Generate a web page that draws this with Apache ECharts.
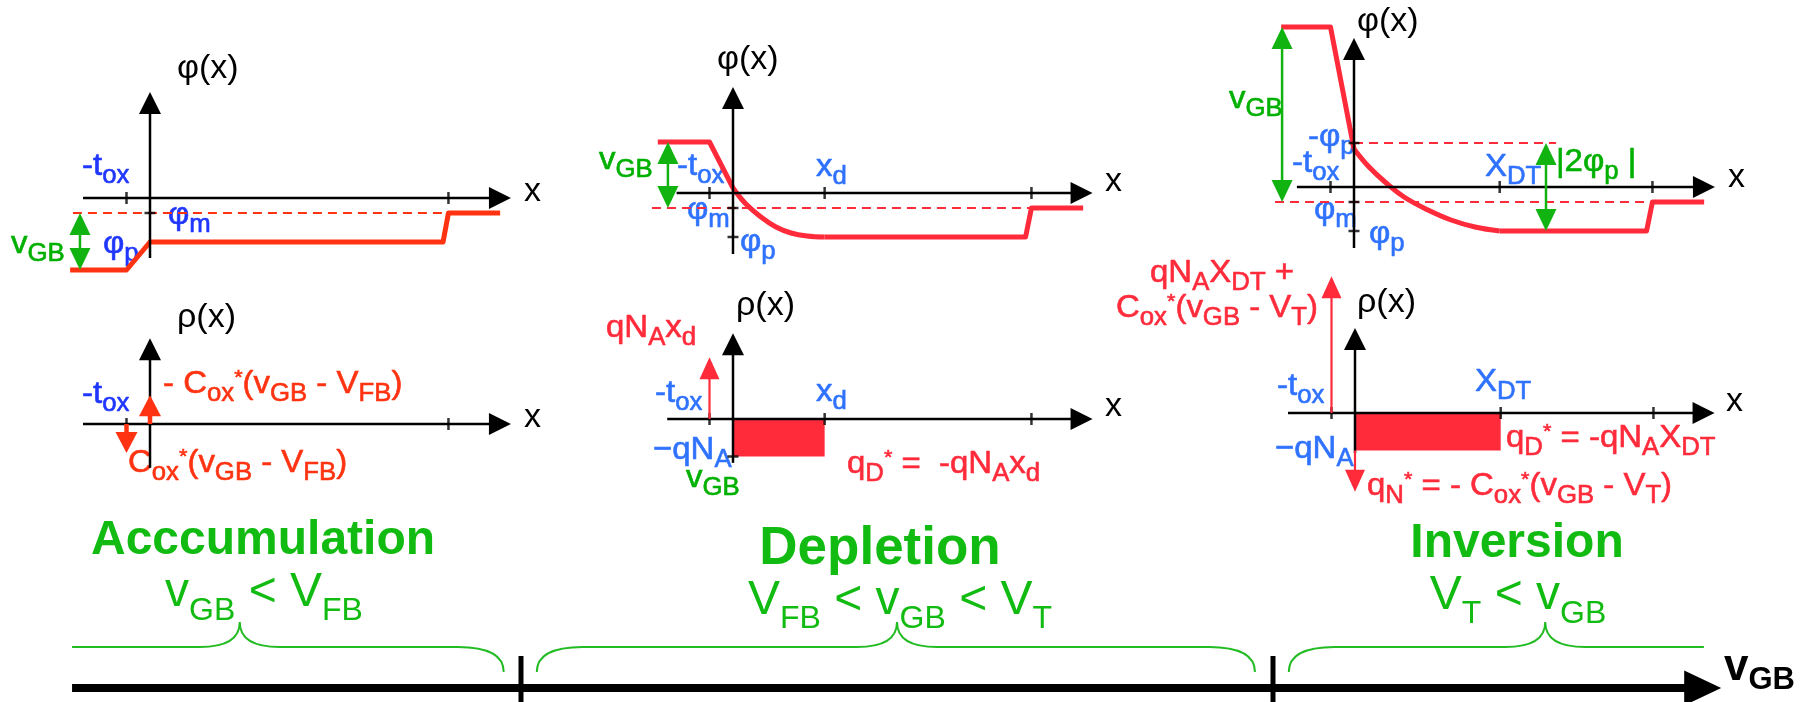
<!DOCTYPE html>
<html>
<head>
<meta charset="utf-8">
<title>MOS capacitor: potential and charge in the three bias regimes</title>
<script src="https://cdn.jsdelivr.net/npm/echarts@6.0.0/dist/echarts.min.js"></script>
<style>
  html, body { margin: 0; padding: 0; background: #fff; }
  #chart { width: 1816px; height: 702px; }
</style>
</head>
<body>
<div id="chart"></div>
<script>
// ---------------- diagram values ----------------
// x in units of the oxide thickness, φ in volts, ρ in units of qN_A
const tox = 1;
const xBack = 12.7;      // back contact
const xd = 3.9;          // depletion width
const xDT = 6.2;         // depletion width at threshold
const phiM = -0.15;      // metal reference level
const phiP = -0.44;      // bulk potential
const qNA = 1;
const VFB = 0, VT = 1;   // region boundaries on the v_GB axis

// potential profiles φ(x)
const accPhi      = [[-3.4, -0.72], [-tox, -0.72], [0, phiP], [12.47, phiP], [xBack, phiM], [14.9, phiM]];
const depPhiGate  = [[-3.2, 0.51], [-tox, 0.51], [0, 0.05]];
const depPhiCurve = [[0, 0.05], [0.51, -0.10], [1.19, -0.24], [1.83, -0.34], [2.47, -0.40], [3.15, -0.43], [xd, phiP]];
const depPhiBulk  = [[xd, phiP], [12.45, phiP], [xBack, phiM], [14.9, phiM]];
const invPhiGate  = [[-3.1, 1.6], [-tox, 1.6], [0, 0.38]];
const invPhiCurve = [[0, 0.38], [0.6, 0.21], [1.32, 0.05], [2.13, -0.10], [3.15, -0.23], [4.13, -0.33], [5.15, -0.40], [xDT, phiP]];
const invPhiBulk  = [[xDT, phiP], [12.45, phiP], [xBack, phiM], [14.9, phiM]];

// dashed reference levels [x0, x1, level]
const accRefs = [[-3.28, xBack, phiM]];
const depRefs = [[-3.45, xBack, phiM]];
const invRefs = [[-3.36, xBack, phiM], [0, 8.6, -phiP]];

// voltage spans (double arrows) [x, from, to]
const accVolt = [[-2.98, phiM, -0.72]];
const depVolt = [[-2.77, phiM, 0.51]];
const invVolt = [[-3.06, phiM, 1.6], [8.17, -phiP, phiP]];

// sheet charges [x, from, to] and depletion slabs [x0, x1, top, bottom]
const accSheets = [[0, 0, 0.77], [-tox, 0, -0.77]];
const depSheets = [[-tox, 0, 1.65]];
const invSheets = [[-tox, 0, 3.65], [0, -qNA, -2.1]];
const depSlab = [[0, xd, 0, -qNA]];
const invSlab = [[0, xDT, 0, -qNA]];

// tick positions
const accXTicks = [-tox, xBack];
const depXTicks = [-tox, xd, xBack];
const invXTicks = [-tox, xDT, xBack];
const accPhiYTicks = [phiM];
const depPhiYTicks = [phiM, phiP];
const invPhiYTicks = [-phiP, phiM, phiP];
const depRhoYTicks = [-qNA];

// axis spans [start, tip]
const phiAxisX = [[-2.85, 15.36], [-2.4, 15.3], [-2.43, 15.36]];
const phiAxisY = [[-0.6, 1.06], [-0.61, 1.06], [-0.61, 1.49]];
const rhoAxisX = [[-2.85, 15.36], [-2.8, 15.3], [-2.85, 15.3]];
const rhoAxisY = [[-1.17, 2.29], [-1.17, 2.29], [-1.07, 2.27]];

// v_GB axis, region braces [start, peak, end, curlStart, curlEnd]
const vgbAxis = [-0.597, 1.596];
const regionBounds = [VFB, VT];
const braces = [[-0.597, -0.374, -0.023, 0, 1], [0.021, 0.5, 0.976, 1, 1], [1.021, 1.362, 1.573, 1, 0]];
const braceFlat = 4.1, bracePeak = 6.6, braceFoot = 1.6;

// ---------------- layout ----------------
// origin pixel, pixels per unit, visible data window
const layouts = [
  { ox: 150,  oy: 198, sx: 23.5, sy: 100,  x: [-4, 16.5], y: [-0.85, 1.75] },
  { ox: 733,  oy: 193, sx: 23.5, sy: 100,  x: [-4, 16.5], y: [-0.85, 1.75] },
  { ox: 1354, oy: 187, sx: 23.5, sy: 100,  x: [-4, 16.5], y: [-0.85, 1.75] },
  { ox: 150,  oy: 424, sx: 23.5, sy: 37.5, x: [-4, 16.5], y: [-3.2, 3.8] },
  { ox: 733,  oy: 419, sx: 23.5, sy: 37.5, x: [-4, 16.5], y: [-3.2, 3.8] },
  { ox: 1355, oy: 413, sx: 23.5, sy: 37.5, x: [-4, 16.5], y: [-3.2, 3.8] },
  { ox: 521,  oy: 688, sx: 752,  sy: 10,   x: [-0.62, 1.62], y: [-1.5, 8.8] }
];

const C = {
  k: '#000000', red1: '#ff3311', red2: '#ff2b3b', blue1: '#1f36ff', blue2: '#2f72ff',
  green: '#00b000', arrowGreen: '#11b311', braceGreen: '#22bb22', label: '#11bb11'
};

// ---------------- series helpers ----------------
function lineS(g, data, color, width, extra) {
  return Object.assign({
    type: 'line', xAxisIndex: g, yAxisIndex: g, data: data, symbol: 'none', showSymbol: false,
    lineStyle: { color: color, width: width, cap: 'butt', join: 'round' },
    silent: true, animation: false, z: 3
  }, extra || {});
}
function dashS(g, ref, color) {
  return lineS(g, [[ref[0], ref[2]], [ref[1], ref[2]]], color, 2, {
    lineStyle: { color: color, width: 2, type: [9, 6] }, z: 2
  });
}
function arrowRenderer(sty) {
  return function (params, api) {
    const a = api.coord([api.value(0), api.value(1)]);
    const b = api.coord([api.value(2), api.value(3)]);
    const both = api.value(4) === 1;
    const dx = b[0] - a[0], dy = b[1] - a[1];
    const len = Math.sqrt(dx * dx + dy * dy) || 1;
    const ux = dx / len, uy = dy / len;
    const nx = -uy * sty.headW / 2, ny = ux * sty.headW / 2;
    const back = sty.headLen * 0.8;
    const start = both ? [a[0] + ux * back, a[1] + uy * back] : a;
    const end = [b[0] - ux * back, b[1] - uy * back];
    const head = function (tip, sgn) {
      const bx = tip[0] - sgn * ux * sty.headLen, by = tip[1] - sgn * uy * sty.headLen;
      return { type: 'polygon', shape: { points: [tip, [bx + nx, by + ny], [bx - nx, by - ny]] },
               style: { fill: sty.color } };
    };
    const children = [{ type: 'line', shape: { x1: start[0], y1: start[1], x2: end[0], y2: end[1] },
                        style: { stroke: sty.color, lineWidth: sty.width, fill: 'none' } }, head(b, 1)];
    if (both) children.push(head(a, -1));
    return { type: 'group', children: children };
  };
}
function arrowS(g, data, sty) {
  return {
    type: 'custom', coordinateSystem: 'cartesian2d', xAxisIndex: g, yAxisIndex: g,
    dimensions: ['x1', 'y1', 'x2', 'y2', 'both'], encode: { x: [0, 2], y: [1, 3] },
    data: data, renderItem: arrowRenderer(sty), silent: true, animation: false, z: sty.z || 4
  };
}
function slabS(g, data, color) {
  return {
    type: 'custom', coordinateSystem: 'cartesian2d', xAxisIndex: g, yAxisIndex: g,
    dimensions: ['x0', 'x1', 'top', 'bottom'], encode: { x: [0, 1], y: [2, 3] }, data: data,
    renderItem: function (params, api) {
      const p = api.coord([api.value(0), api.value(2)]);
      const q = api.coord([api.value(1), api.value(3)]);
      return { type: 'rect', shape: { x: Math.min(p[0], q[0]), y: Math.min(p[1], q[1]),
               width: Math.abs(q[0] - p[0]), height: Math.abs(q[1] - p[1]) }, style: { fill: color } };
    }, silent: true, animation: false, z: 2
  };
}
function tickS(g, data, horizontal) {
  return {
    type: 'scatter', xAxisIndex: g, yAxisIndex: g, data: data, symbol: 'rect',
    symbolSize: horizontal ? [11, 2.5] : [2.5, 12], itemStyle: { color: C.k },
    silent: true, animation: false, z: 5
  };
}
function braceS(g) {
  return {
    type: 'custom', coordinateSystem: 'cartesian2d', xAxisIndex: g, yAxisIndex: g,
    dimensions: ['x0', 'xp', 'x1', 'c0', 'c1'], encode: { x: [0, 1, 2] }, data: braces,
    renderItem: function (params, api) {
      const yF = api.coord([0, braceFlat])[1], yP = api.coord([0, bracePeak])[1], yB = api.coord([0, braceFoot])[1];
      const p0 = api.coord([api.value(0), 0])[0], pp = api.coord([api.value(1), 0])[0], p1 = api.coord([api.value(2), 0])[0];
      const rc = 46, rp = 40;
      let d = api.value(3) === 1 ? 'M' + p0 + ',' + yB + ' Q' + p0 + ',' + yF + ' ' + (p0 + rc) + ',' + yF : 'M' + p0 + ',' + yF;
      d += ' L' + (pp - rp) + ',' + yF + ' Q' + pp + ',' + yF + ' ' + pp + ',' + yP +
           ' Q' + pp + ',' + yF + ' ' + (pp + rp) + ',' + yF;
      d += api.value(4) === 1 ? ' L' + (p1 - rc) + ',' + yF + ' Q' + p1 + ',' + yF + ' ' + p1 + ',' + yB : ' L' + p1 + ',' + yF;
      return { type: 'path', shape: { pathData: d }, style: { stroke: C.braceGreen, lineWidth: 2, fill: 'none' } };
    }, silent: true, animation: false, z: 3
  };
}
const vArrow = (list, both) => list.map(a => [a[0], a[1], a[0], a[2], both ? 1 : 0]);
const axisArrows = (xs, ys) => [[xs[0], 0, xs[1], 0, 0], [0, ys[0], 0, ys[1], 0]];

const axisSty = { color: C.k, width: 2.5, headW: 22, headLen: 22, z: 4 };
const greenSty = { color: C.arrowGreen, width: 2.5, headW: 21, headLen: 22, z: 6 };
const sheetSty1 = { color: C.red1, width: 4.5, headW: 22, headLen: 21, z: 6 };
const sheetSty2 = { color: C.red2, width: 2.2, headW: 20, headLen: 22, z: 6 };
const bigAxisSty = { color: C.k, width: 8, headW: 35, headLen: 37, z: 4 };

const series = [];
const phiSets = [
  { g: 0, red: C.red1, parts: [accPhi], curves: [], refs: accRefs, volt: accVolt, xt: accXTicks, yt: accPhiYTicks },
  { g: 1, red: C.red2, parts: [depPhiGate, depPhiBulk], curves: [depPhiCurve], refs: depRefs, volt: depVolt, xt: depXTicks, yt: depPhiYTicks },
  { g: 2, red: C.red2, parts: [invPhiGate, invPhiBulk], curves: [invPhiCurve], refs: invRefs, volt: invVolt, xt: invXTicks, yt: invPhiYTicks }
];
phiSets.forEach(function (s, i) {
  series.push(arrowS(s.g, axisArrows(phiAxisX[i], phiAxisY[i]), axisSty));
  s.refs.forEach(r => series.push(dashS(s.g, r, s.red)));
  s.parts.forEach(p => series.push(lineS(s.g, p, s.red, 5)));
  s.curves.forEach(p => series.push(lineS(s.g, p, s.red, 5, { smooth: 0.4 })));
  series.push(arrowS(s.g, vArrow(s.volt, true), greenSty));
  series.push(tickS(s.g, s.xt.map(t => [t, 0]), false));
  series.push(tickS(s.g, s.yt.map(t => [0, t]), true));
});
const rhoSets = [
  { g: 3, sheets: accSheets, sty: sheetSty1, slab: null, xt: accXTicks, yt: [] },
  { g: 4, sheets: depSheets, sty: sheetSty2, slab: depSlab, xt: depXTicks, yt: depRhoYTicks },
  { g: 5, sheets: invSheets, sty: sheetSty2, slab: invSlab, xt: invXTicks, yt: [] }
];
rhoSets.forEach(function (s, i) {
  if (s.slab) series.push(slabS(s.g, s.slab, C.red2));
  series.push(arrowS(s.g, axisArrows(rhoAxisX[i], rhoAxisY[i]), axisSty));
  series.push(arrowS(s.g, vArrow(s.sheets, false), s.sty));
  series.push(tickS(s.g, s.xt.map(t => [t, 0]), false));
  if (s.yt.length) series.push(tickS(s.g, s.yt.map(t => [0, t]), true));
});
// v_GB axis with region boundaries and braces
series.push(arrowS(6, [[vgbAxis[0], 0, vgbAxis[1], 0, 0]], bigAxisSty));
regionBounds.forEach(v => series.push(lineS(6, [[v, -1.5], [v, 3.2]], C.k, 5)));
series.push(braceS(6));

// ---------------- text ----------------
const fontFam = "'Liberation Sans', Arial, sans-serif";
function toRich(src) {
  let out = '', buf = '', i = 0;
  const flush = () => { if (buf) { out += '{m|' + buf + '}'; buf = ''; } };
  while (i < src.length) {
    const c = src[i];
    if ((c === '_' || c === '^') && src[i + 1] === '{') {
      flush();
      const j = src.indexOf('}', i);
      out += '{' + (c === '_' ? 's' : 'p') + '|' + src.slice(i + 2, j) + '}';
      i = j + 1;
    } else { buf += c; i++; }
  }
  flush();
  return out;
}
function textEl(l) {
  const F = l.size, f = Math.round(F * (l.subRatio || 0.78));
  const w = l.bold ? 'bold' : 'normal';
  const base = { fill: l.color, fontFamily: fontFam, fontWeight: w, verticalAlign: 'top' };
  if (l.heavy) { base.stroke = l.color; base.lineWidth = l.heavy; }
  return {
    type: 'text', x: l.x, y: l.y - F / 2, z: 1, scaleX: l.sx || 1, silent: true,
    style: {
      text: toRich(l.text), align: l.align || 'left', verticalAlign: 'top',
      fill: l.color, fontFamily: fontFam, fontSize: F, fontWeight: w,
      rich: {
        m: Object.assign({ fontSize: F }, base),
        s: Object.assign({ fontSize: f, padding: [F * (l.drop || 0.42), 0, 0, 0] }, base),
        p: Object.assign({ fontSize: Math.round(f * 0.85), padding: [0, 0, 0, 0] }, base)
      }
    }
  };
}
const K = 34, S = 32, W = 1.03, H = 0.6;
const labels = [
  // accumulation φ(x)
  { x: 177, y: 69, text: 'φ(x)', color: C.k, size: K },
  { x: 82, y: 166, text: '-t_{ox}', color: C.blue1, size: S, sx: W, heavy: H },
  { x: 524, y: 192, text: 'x', color: C.k, size: K },
  { x: 168, y: 215, text: 'φ_{m}', color: C.blue1, size: S, sx: W, heavy: H },
  { x: 11, y: 244, text: 'v_{GB}', color: C.green, size: S, sx: W, heavy: H },
  { x: 103, y: 244, text: 'φ_{p}', color: C.blue1, size: S, sx: W, heavy: H },
  // accumulation ρ(x)
  { x: 177, y: 318, text: 'ρ(x)', color: C.k, size: K },
  { x: 82, y: 394, text: '-t_{ox}', color: C.blue1, size: S, sx: W, heavy: H },
  { x: 163, y: 384, text: '- C_{ox}^{*}(v_{GB} - V_{FB})', color: C.red1, size: S, sx: W, heavy: H },
  { x: 128, y: 463, text: 'C_{ox}^{*}(v_{GB} - V_{FB})', color: C.red1, size: S, sx: W, heavy: H },
  { x: 524, y: 418, text: 'x', color: C.k, size: K },
  // depletion φ(x)
  { x: 717, y: 60, text: 'φ(x)', color: C.k, size: K },
  { x: 599, y: 160, text: 'v_{GB}', color: C.green, size: S, sx: W, heavy: H },
  { x: 677, y: 166, text: '-t_{ox}', color: C.blue2, size: S, sx: W, heavy: H },
  { x: 816, y: 167, text: 'x_{d}', color: C.blue2, size: S, sx: W, heavy: H },
  { x: 1105, y: 182, text: 'x', color: C.k, size: K },
  { x: 687, y: 210, text: 'φ_{m}', color: C.blue2, size: S, sx: W, heavy: H },
  { x: 740, y: 242, text: 'φ_{p}', color: C.blue2, size: S, sx: W, heavy: H },
  // depletion ρ(x)
  { x: 606, y: 328, text: 'qN_{A}x_{d}', color: C.red2, size: S, sx: W, heavy: H },
  { x: 736, y: 306, text: 'ρ(x)', color: C.k, size: K },
  { x: 655, y: 393, text: '-t_{ox}', color: C.blue2, size: S, sx: W, heavy: H },
  { x: 816, y: 392, text: 'x_{d}', color: C.blue2, size: S, sx: W, heavy: H },
  { x: 1105, y: 407, text: 'x', color: C.k, size: K },
  { x: 653, y: 450, text: '−qN_{A}', color: C.blue2, size: S, sx: W, heavy: H },
  { x: 686, y: 478, text: 'v_{GB}', color: C.green, size: S, sx: W, heavy: H },
  { x: 847, y: 464, text: 'q_{D}^{*} =  -qN_{A}x_{d}', color: C.red2, size: S, sx: W, heavy: H },
  // inversion φ(x)
  { x: 1357, y: 22, text: 'φ(x)', color: C.k, size: K },
  { x: 1229, y: 99, text: 'v_{GB}', color: C.green, size: S, sx: W, heavy: H },
  { x: 1308, y: 137, text: '-φ_{p}', color: C.blue2, size: S, sx: W, heavy: H },
  { x: 1292, y: 163, text: '-t_{ox}', color: C.blue2, size: S, sx: W, heavy: H },
  { x: 1485, y: 167, text: 'X_{DT}', color: C.blue2, size: S, sx: W, heavy: H },
  { x: 1556, y: 162, text: '|2φ_{p} |', color: C.green, size: S, sx: W, heavy: H },
  { x: 1728, y: 178, text: 'x', color: C.k, size: K },
  { x: 1314, y: 210, text: 'φ_{m}', color: C.blue2, size: S, sx: W, heavy: H },
  { x: 1369, y: 234, text: 'φ_{p}', color: C.blue2, size: S, sx: W, heavy: H },
  // inversion ρ(x)
  { x: 1150, y: 273, text: 'qN_{A}X_{DT} +', color: C.red2, size: S, sx: W, heavy: H },
  { x: 1116, y: 308, text: 'C_{ox}^{*}(v_{GB} - V_{T})', color: C.red2, size: S, sx: W, heavy: H },
  { x: 1357, y: 303, text: 'ρ(x)', color: C.k, size: K },
  { x: 1277, y: 386, text: '-t_{ox}', color: C.blue2, size: S, sx: W, heavy: H },
  { x: 1475, y: 382, text: 'X_{DT}', color: C.blue2, size: S, sx: W, heavy: H },
  { x: 1726, y: 402, text: 'x', color: C.k, size: K },
  { x: 1275, y: 449, text: '−qN_{A}', color: C.blue2, size: S, sx: W, heavy: H },
  { x: 1506, y: 438, text: 'q_{D}^{*} = -qN_{A}X_{DT}', color: C.red2, size: S, sx: W, heavy: H },
  { x: 1367, y: 486, text: 'q_{N}^{*} = - C_{ox}^{*}(v_{GB} - V_{T})', color: C.red2, size: S, sx: W, heavy: H },
  // regimes
  { x: 263, y: 541, text: 'Acccumulation', color: C.label, size: 48, bold: true, align: 'center' },
  { x: 264, y: 593, text: 'v_{GB} < V_{FB}', color: C.label, size: 48, align: 'center', subRatio: 0.67, drop: 0.55 },
  { x: 880, y: 549, text: 'Depletion', color: C.label, size: 53, bold: true, align: 'center' },
  { x: 900, y: 601, text: 'V_{FB} < v_{GB} < V_{T}', color: C.label, size: 48, align: 'center', subRatio: 0.67, drop: 0.55 },
  { x: 1517, y: 544, text: 'Inversion', color: C.label, size: 48, bold: true, align: 'center' },
  { x: 1518, y: 596, text: 'V_{T} < v_{GB}', color: C.label, size: 48, align: 'center', subRatio: 0.67, drop: 0.55 },
  { x: 1724, y: 668, text: 'v_{GB}', color: C.k, size: 44, bold: true, subRatio: 0.7 }
];

// ---------------- chart ----------------
const chart = echarts.init(document.getElementById('chart'), null, { renderer: 'canvas' });
chart.setOption({
  animation: false,
  backgroundColor: '#ffffff',
  grid: layouts.map(L => ({
    left: L.ox + L.x[0] * L.sx, top: L.oy - L.y[1] * L.sy,
    width: (L.x[1] - L.x[0]) * L.sx, height: (L.y[1] - L.y[0]) * L.sy,
    containLabel: false, outerBoundsMode: 'none'
  })),
  xAxis: layouts.map((L, i) => ({ type: 'value', gridIndex: i, min: L.x[0], max: L.x[1], show: false })),
  yAxis: layouts.map((L, i) => ({ type: 'value', gridIndex: i, min: L.y[0], max: L.y[1], show: false })),
  series: series,
  graphic: { elements: labels.map(textEl) }
});
</script>
</body>
</html>
